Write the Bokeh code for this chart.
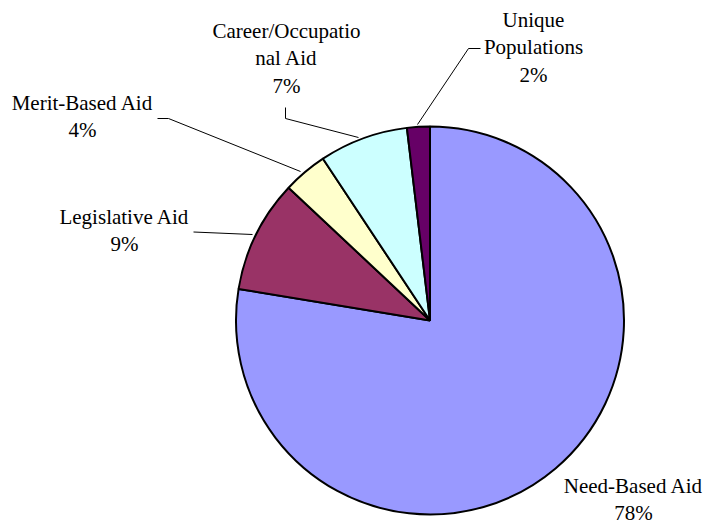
import numpy as np
from bokeh.plotting import figure
from bokeh.models import Range1d, ColumnDataSource
from bokeh.core.properties import value
from bokeh.embed import file_html
from bokeh.resources import INLINE

# ---- data (clockwise from 12 o'clock) ----
categories = ["Need-Based Aid", "Legislative Aid", "Merit-Based Aid",
              "Career/Occupational Aid", "Unique Populations"]
label_lines = [["Need-Based Aid"], ["Legislative Aid"], ["Merit-Based Aid"],
               ["Career/Occupatio", "nal Aid"], ["Unique", "Populations"]]
shares = [77.6, 9.4, 3.7, 7.4, 1.9]
colors = ["#9999FF", "#993366", "#FFFFCC", "#CCFFFF", "#660066"]

# ---- layout (image pixel coordinates; y measured from top) ----
W, H = 708, 525
IMG_H = 525
cx, cy, R = 429.5, 320, 194
label_pos = [(633, 493), (124, 224), (82, 110), (286, 38), (533, 27)]
line_gap = 27.5
text_shift = 8
leaders = [
    None,
    [(193, 231.5), (252, 234)],
    [(157, 118), (168, 118), (300, 171)],
    [(285, 107), (285, 118), (358, 137)],
    [(480, 48), (468, 48), (417, 124)],
]

def fy(y):
    return IMG_H - y

p = figure(width=W, height=H, output_backend="svg", toolbar_location=None,
           x_range=Range1d(0, W), y_range=Range1d(IMG_H - H, IMG_H),
           min_border=0)
p.axis.visible = False
p.grid.visible = False
p.outline_line_color = None
p.background_fill_color = "white"

total = sum(shares)
fr = np.array(shares) / total
cum = np.concatenate([[0], np.cumsum(fr)])
start = np.pi / 2 - cum[:-1] * 2 * np.pi
end = np.pi / 2 - cum[1:] * 2 * np.pi

src = ColumnDataSource(dict(start=start, end=end, color=colors, cat=categories))
p.wedge(x=cx, y=fy(cy), radius=R, radius_units="screen",
        start_angle="start", end_angle="end", direction="clock",
        fill_color="color", line_color="black", line_width=2, source=src)

# labels
xs, ys, ts = [], [], []
for i, lines in enumerate(label_lines):
    lx, ly = label_pos[i]
    all_lines = lines + [f"{round(shares[i] / total * 100)}%"]
    for k, t in enumerate(all_lines):
        xs.append(lx)
        ys.append(fy(ly - text_shift + k * line_gap))
        ts.append(t)
tsrc = ColumnDataSource(dict(x=xs, y=ys, text=ts))
p.text(x="x", y="y", text="text", source=tsrc,
       text_font=value("serif"),
       text_font_size="21px", text_color="black", text_align="center",
       text_baseline="alphabetic")

for ld in leaders:
    if ld is None:
        continue
    p.line([a for a, b in ld], [fy(b) for a, b in ld], line_color="black",
           line_width=1)

open("out.html", "w").write(file_html(p, INLINE))
